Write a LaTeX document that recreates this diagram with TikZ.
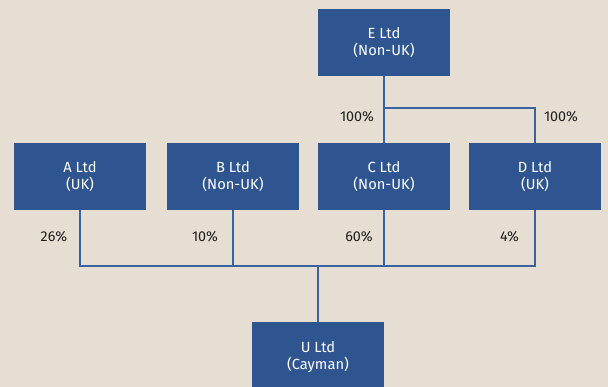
\documentclass[tikz,border=0pt]{standalone}
\usepackage{fontspec}
\setmainfont{Fira Sans}
\definecolor{bg}{HTML}{E6DED2}
\definecolor{boxblue}{HTML}{2F5590}
\definecolor{lineblue}{HTML}{3B62A0}
\definecolor{labeltext}{HTML}{1E1E1E}
\begin{document}
\begin{tikzpicture}[x=1pt,y=-1pt,
  entity/.style={fill=boxblue,draw=none,minimum width=132pt,minimum height=67pt,inner sep=0pt,
     text=white,align=center,font=\fontsize{14.7}{17.5}\selectfont},
  pct/.style={text=labeltext,font=\fontsize{14.3}{16}\selectfont,inner sep=0pt},
  link/.style={draw=lineblue,line width=1.1pt}]
\fill[bg] (0,0) rectangle (608,387);
\useasboundingbox (0,0) rectangle (608,387);
\node[entity] (E) at (384,42.5) {E Ltd\\(Non-UK)};
\node[entity] (A) at (80,176.5) {A Ltd\\(UK)};
\node[entity] (B) at (233,176.5) {B Ltd\\(Non-UK)};
\node[entity] (C) at (384,176.5) {C Ltd\\(Non-UK)};
\node[entity] (D) at (535,176.5) {D Ltd\\(UK)};
\node[entity,minimum height=70pt] (U) at (318,357) {U Ltd\\(Cayman)};
\coordinate (ej) at (384,108);
\coordinate (bus) at (318,266);
\draw[link] (E.south) -- (C.north);
\draw[link] (ej) -| (D.north);
\draw[link] (A.south) |- (bus);
\draw[link] (D.south) |- (bus);
\draw[link] (B.south) -- (B.south |- bus);
\draw[link] (C.south) -- (C.south |- bus);
\draw[link] (bus) -- (U.north);
\node[pct] (l1) at (357,117) {100\%};
\node[pct] (l2) at (561,117) {100\%};
\node[pct] (l3) at (54,237) {26\%};
\node[pct] (l4) at (205,237) {10\%};
\node[pct] (l5) at (359,237) {60\%};
\node[pct] (l6) at (509.5,237) {4\%};
\end{tikzpicture}
\end{document}
